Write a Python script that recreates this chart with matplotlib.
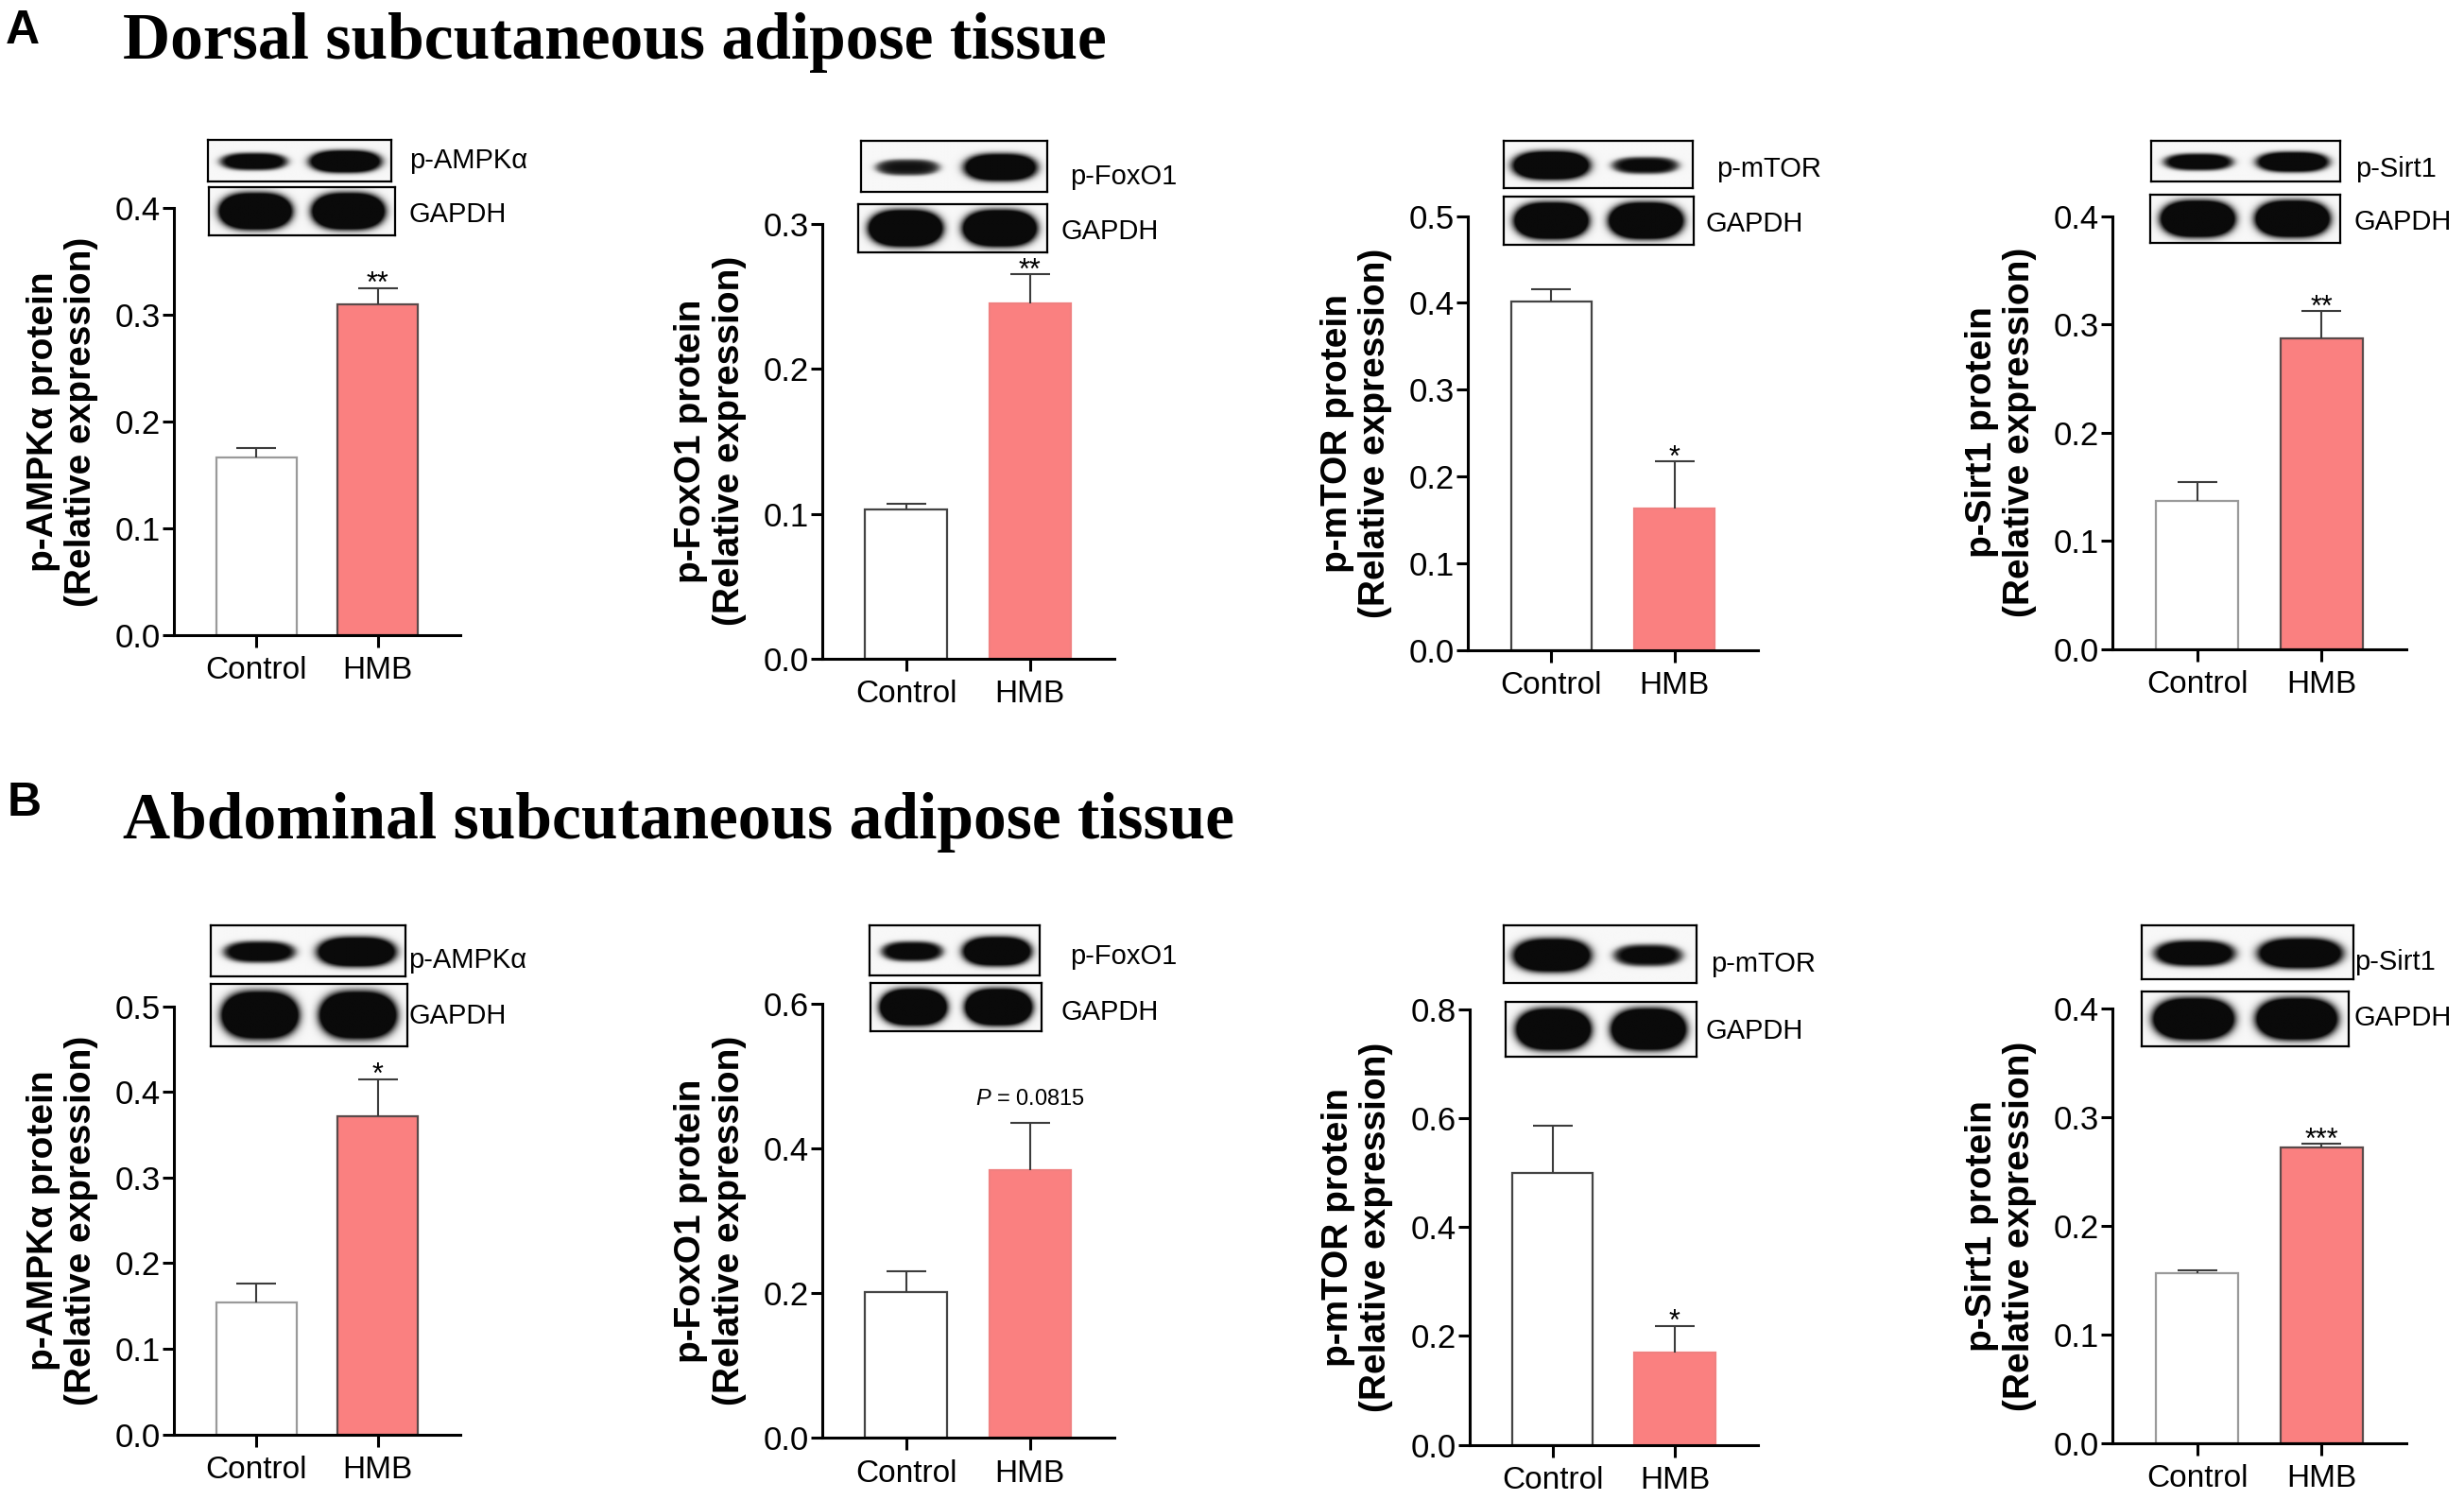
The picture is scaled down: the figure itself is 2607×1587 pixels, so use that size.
import numpy as np
import matplotlib
matplotlib.use("Agg")
import matplotlib.pyplot as plt

plt.rcParams['font.family'] = ['Liberation Sans', 'DejaVu Sans']
plt.rcParams['mathtext.fontset'] = 'custom'
plt.rcParams['mathtext.rm'] = 'Liberation Sans'
plt.rcParams['mathtext.it'] = 'Liberation Sans:italic'

# ---------------- data ----------------
categories = ["Control", "HMB"]
proteins = ["p-AMPKα", "p-FoxO1", "p-mTOR", "p-Sirt1"]
loading_control = "GAPDH"

dorsal_means = [[0.166, 0.310], [0.103, 0.245], [0.402, 0.163], [0.137, 0.287]]
dorsal_sem = [[0.009, 0.015], [0.004, 0.020], [0.014, 0.054], [0.017, 0.025]]
dorsal_sig = ["**", "**", "*", "**"]
dorsal_ymax = [0.4, 0.3, 0.5, 0.4]
dorsal_ystep = [0.1, 0.1, 0.1, 0.1]

abdominal_means = [[0.154, 0.371], [0.202, 0.370], [0.500, 0.170], [0.156, 0.272]]
abdominal_sem = [[0.022, 0.044], [0.028, 0.065], [0.087, 0.049], [0.0027, 0.0035]]
abdominal_sig = ["*", "$P$ = 0.0815", "*", "***"]
abdominal_ymax = [0.5, 0.6, 0.8, 0.4]
abdominal_ystep = [0.1, 0.2, 0.2, 0.1]

# relative band strengths of the target protein blot (Control, HMB)
dorsal_bands = [[0.55, 0.85], [0.3, 0.85], [1.0, 0.4], [0.55, 0.75]]
abdominal_bands = [[0.55, 0.95], [0.5, 0.95], [0.95, 0.45], [0.7, 0.9]]
gapdh_bands = [1.0, 1.0]

section_titles = ["Dorsal subcutaneous adipose tissue", "Abdominal subcutaneous adipose tissue"]
panel_letters = ["A", "B"]

# ---------------- layout (pixels) ----------------
W, H = 2607, 1587
fig = plt.figure(figsize=(W / 100, H / 100), dpi=100)


def rect(x0, x1, ytop, ybot):
    return [x0 / W, 1 - ybot / H, (x1 - x0) / W, (ybot - ytop) / H]


axes_px = [
    [(184, 487, 220, 672), (869.6, 1179, 236.8, 696.9), (1553, 1860, 228.5, 687.8), (2235, 2546, 228.5, 686.6)],
    [(184, 487, 1064.5, 1517.7), (869.6, 1179, 1062.1, 1521.3), (1554.5, 1860, 1067.8, 1528.7), (2235, 2546, 1067.4, 1526.5)],
]
blot_top_px = [
    [(220, 414, 148, 192), (911, 1108, 149, 203), (1591, 1791, 149, 199), (2276, 2476, 149, 192)],
    [(223, 429, 979, 1033), (920, 1100, 979, 1032), (1591, 1795, 979, 1040), (2266, 2490, 979, 1036)],
]
blot_bot_px = [
    [(221, 418, 198.5, 249), (908, 1108, 216, 267), (1591, 1792, 208, 259), (2275, 2476, 206, 257)],
    [(223, 431, 1041, 1107), (921, 1102, 1040, 1091), (1593, 1795, 1060, 1118), (2266, 2485, 1049, 1107)],
]
label_top_px = [
    [(433, 170), (1132, 187), (1816, 179), (2492, 179)],
    [(432, 1016), (1132, 1012), (1810, 1020), (2491, 1018)],
]
label_bot_px = [
    [(433, 227), (1123, 245), (1805, 237), (2490, 235)],
    [(432, 1075), (1123, 1071), (1805, 1091), (2490, 1077)],
]
title_px = [(130, 62), (130, 887)]
letter_px = [(6, 46), (8, 863)]

ctrl_edge = [["#9a9a9a", "#444444", "#444444", "#9a9a9a"], ["#9a9a9a", "#444444", "#444444", "#9a9a9a"]]
hmb_edge = [["#5a4a4a", "#f08080", "#f08080", "#5a4a4a"], ["#5a4a4a", "#f08080", "#f08080", "#5a4a4a"]]
HMB_COLOR = "#FA8080"


def blot_image(strengths, kind, nx=320, ny=90):
    x = np.linspace(0, 1, nx)[None, :]
    y = np.linspace(0, 1, ny)[:, None]
    dark = np.zeros((ny, nx))
    centers = [0.25, 0.75]
    for c, s in zip(centers, strengths):
        if kind == "gapdh":
            hw, hh, yc, gain = 0.19, 0.36, 0.5, 2.0
        else:
            hw, hh, yc, gain = 0.15 + 0.05 * s, 0.09 + 0.20 * s, 0.52, 0.7 + 1.0 * s
        d = np.abs((x - c) / hw) ** 3 + np.abs((y - yc) / hh) ** 2
        prof = 1 / (1 + np.exp((d - 1) / 0.28))
        dark = np.maximum(dark, np.clip(prof * gain, 0, 1))
    return 0.97 - 0.93 * dark


def draw_blot(px, strengths, kind):
    bax = fig.add_axes(rect(*px))
    bax.imshow(blot_image(strengths, kind), cmap="gray", vmin=0, vmax=1,
               aspect="auto", interpolation="bilinear")
    bax.set_xticks([])
    bax.set_yticks([])
    for sp in bax.spines.values():
        sp.set_linewidth(1.6)
        sp.set_color("black")


sections = [
    (dorsal_means, dorsal_sem, dorsal_sig, dorsal_ymax, dorsal_ystep, dorsal_bands),
    (abdominal_means, abdominal_sem, abdominal_sig, abdominal_ymax, abdominal_ystep, abdominal_bands),
]

xpos = np.arange(len(categories))
for r, (means, sems, sigs, ymaxs, ysteps, bands) in enumerate(sections):
    for c in range(4):
        x0, x1, yt, yb = axes_px[r][c]
        ax = fig.add_axes(rect(x0, x1, yt, yb))
        m = np.array(means[c])
        e = np.array(sems[c])
        ax.bar(xpos[0], m[0], width=0.66, color="white", edgecolor=ctrl_edge[r][c], linewidth=1.6, zorder=2)
        ax.bar(xpos[1], m[1], width=0.66, color=HMB_COLOR, edgecolor=hmb_edge[r][c], linewidth=1.6, zorder=2)
        eb = ax.errorbar(xpos, m, yerr=[np.zeros_like(e), e], fmt="none", ecolor="#3c3c3c",
                         elinewidth=1.5, capsize=15, capthick=1.5, zorder=3)
        eb[1][0].set_visible(False)
        ax.set_xlim(-0.68, 1.68)
        ax.set_ylim(0, ymaxs[c])
        ax.set_yticks(np.arange(0, ymaxs[c] + 1e-9, ysteps[c]))
        ax.yaxis.set_major_formatter(matplotlib.ticker.FormatStrFormatter("%.1f"))
        ax.set_xticks(xpos)
        ax.set_xticklabels(categories)
        for s in ["top", "right"]:
            ax.spines[s].set_visible(False)
        for s in ["left", "bottom"]:
            ax.spines[s].set_linewidth(2.2)
        ax.tick_params(axis="y", length=9, width=2.2, pad=1, labelsize=25, colors="black")
        ax.tick_params(axis="x", length=9, width=2.2, pad=7, labelsize=24, colors="black")
        ax.set_ylabel(proteins[c] + " protein\n(Relative expression)", fontsize=28,
                      fontweight="bold", linespacing=1.15)
        ax.yaxis.set_label_coords(-80 / (x1 - x0), 0.5)
        sig = sigs[c]
        top = m[1] + e[1]
        if sig.startswith("*"):
            ax.annotate(sig, xy=(xpos[1], top), xytext=(0, -3), textcoords="offset points",
                        ha="center", va="baseline", fontsize=22)
        else:
            ax.annotate(sig, xy=(xpos[1], top), xytext=(0, 18), textcoords="offset points",
                        ha="center", va="center", fontsize=17)

        draw_blot(blot_top_px[r][c], bands[c], "target")
        draw_blot(blot_bot_px[r][c], gapdh_bands, "gapdh")
        lx, ly = label_top_px[r][c]
        fig.text(lx / W, 1 - ly / H, proteins[c], ha="left", va="center", fontsize=21)
        lx, ly = label_bot_px[r][c]
        fig.text(lx / W, 1 - ly / H, loading_control, ha="left", va="center", fontsize=21)

    tx, ty = title_px[r]
    fig.text(tx / W, 1 - ty / H, section_titles[r], ha="left", va="baseline", fontsize=50,
             family="Liberation Serif", fontweight="bold")
    lx, ly = letter_px[r]
    fig.text(lx / W, 1 - ly / H, panel_letters[r], ha="left", va="baseline", fontsize=36,
             fontweight="bold")

fig.savefig("out.png", dpi=100, facecolor="white")
